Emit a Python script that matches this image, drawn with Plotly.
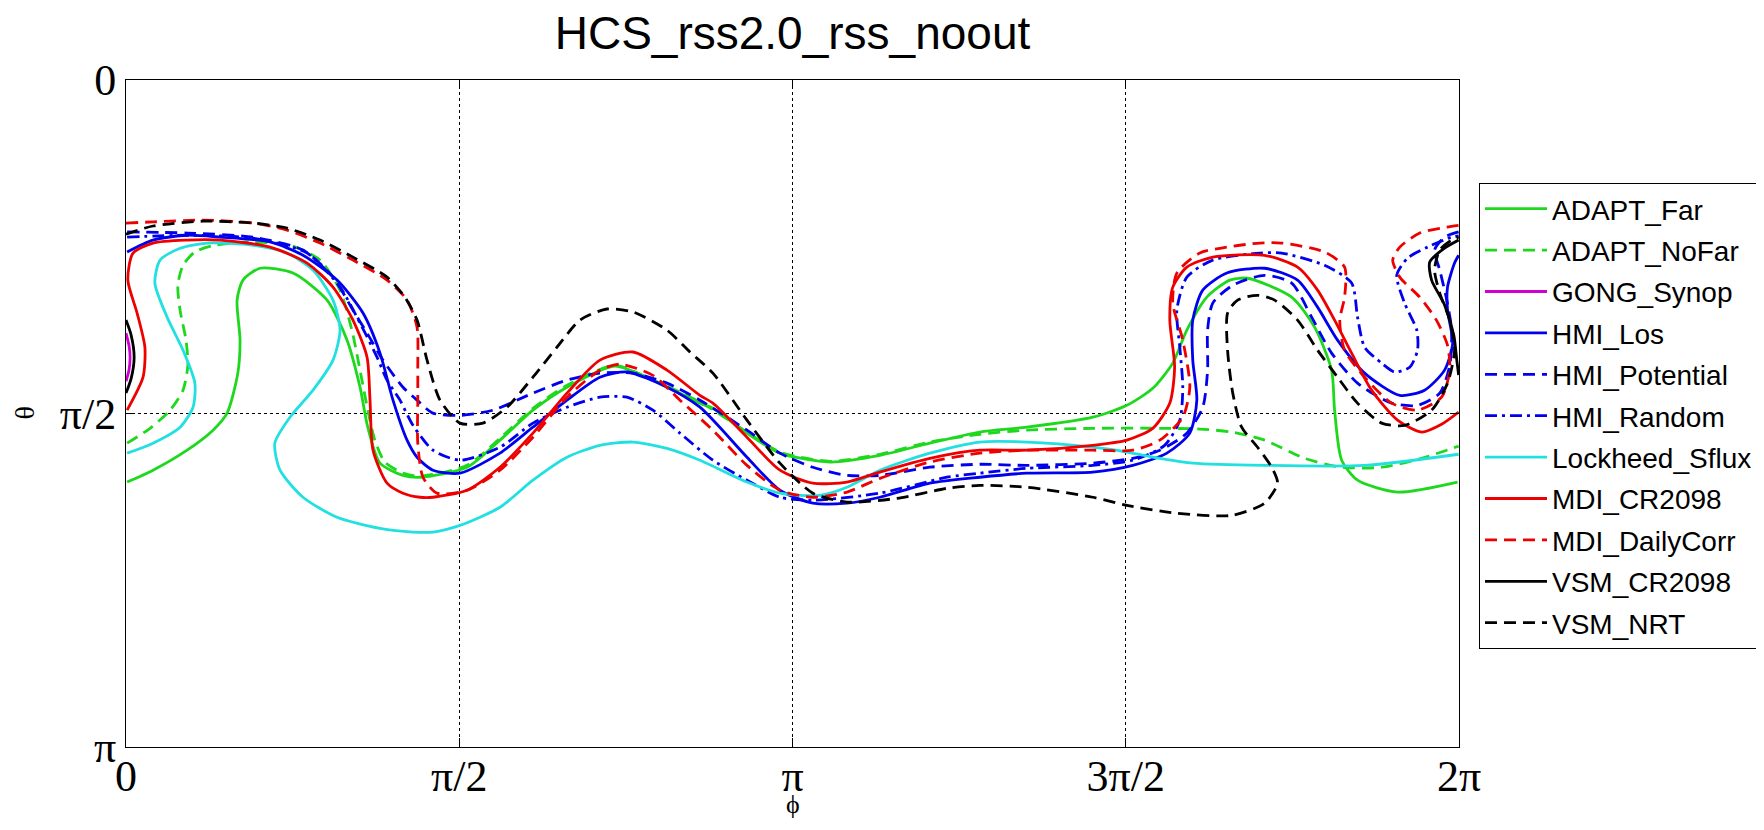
import plotly.graph_objects as go

# ---- data: heliospheric current sheet traces (phi, theta in degrees) ----
MODELS = ["ADAPT_Far", "ADAPT_NoFar", "GONG_Synop", "HMI_Los", "HMI_Potential",
          "HMI_Random", "Lockheed_Sflux", "MDI_CR2098", "MDI_DailyCorr",
          "VSM_CR2098", "VSM_NRT"]

PHI_ADAPT_FAR = [0.3, 7.3, 16.5, 23.5, 27.3, 30.2, 30.8, 30.0, 31.6, 36.2, 45.1, 54.3, 59.7, 63.2, 65.3,
                 68.6, 74.8, 79.4, 92.1, 101.0, 109.9, 119.1, 132.0, 142.3, 155.0, 158.5, 167.7,
                 176.6, 190.1, 203.6, 217.1, 230.6, 243.3, 261.1, 270.3, 277.3, 282.7, 286.5,
                 291.9, 298.1, 302.9, 314.8, 321.0, 325.6, 326.4, 328.3, 332.6, 343.4, 359.6]
THETA_ADAPT_FAR = [108.5, 105.3, 99.9, 94.5, 89.9, 79.1, 70.2, 59.4, 54.0, 50.8, 52.1, 59.4, 70.2, 82.9,
                   93.7, 103.4, 106.7, 107.2, 104.5, 97.2, 89.1, 82.9, 77.2, 81.0, 87.2, 88.6, 95.3,
                   100.7, 103.1, 101.3, 98.0, 95.0, 93.7, 91.0, 87.8, 83.2, 76.4, 67.5, 58.6, 54.0,
                   53.5, 58.6, 66.7, 78.3, 89.1, 102.6, 108.0, 111.2, 108.5]

PHI_ADAPT_NOFAR = [0.3, 6.5, 11.9, 15.4, 16.7, 16.2, 14.6, 14.0, 15.4, 18.6, 24.0, 33.5, 44.3, 52.4,
                   57.8, 61.0, 63.2, 65.3, 67.2, 69.9, 74.8, 79.4, 92.1, 101.0, 109.9, 119.1, 132.0,
                   142.3, 155.0, 167.7, 176.6, 190.1, 203.6, 217.1, 230.6, 243.3, 261.1, 279.2,
                   290.0, 298.6, 307.5, 318.3, 328.3, 339.1, 349.9, 359.9]
THETA_ADAPT_NOFAR = [98.0, 94.0, 89.1, 83.7, 77.0, 70.2, 62.1, 55.4, 50.0, 46.4, 44.6, 43.7, 44.6, 48.6,
                     56.7, 67.5, 78.3, 89.1, 97.2, 103.1, 106.1, 106.9, 104.0, 96.7, 88.6, 82.4, 77.0,
                     81.0, 86.9, 95.0, 100.4, 102.9, 101.0, 97.7, 95.6, 94.5, 94.0, 94.0, 94.2, 95.0,
                     97.2, 102.1, 104.5, 104.5, 102.1, 98.8]

PHI_GONG_SYNOP = [0.0, 0.8, 1.1, 0.8, 0.0]
THETA_GONG_SYNOP = [68.3, 71.6, 74.8, 78.3, 81.3]

PHI_HMI_LOS = [0.3, 7.3, 16.5, 25.4, 38.9, 47.8, 57.0, 64.0, 68.6, 72.1, 75.9, 78.6, 82.9, 90.2, 101.0,
               109.9, 119.1, 128.0, 135.3, 146.1, 155.0, 167.7, 176.6, 185.5, 194.7, 203.6, 217.1,
               230.6, 243.3, 261.1, 271.9, 281.1, 287.3, 289.2, 288.1, 288.1, 290.8, 297.3, 307.5,
               316.4, 321.8, 327.2, 334.5, 344.0, 350.7, 356.1, 358.3, 356.9, 356.9, 358.8, 359.9]
THETA_HMI_LOS = [46.4, 43.2, 41.9, 42.4, 43.7, 47.3, 54.0, 62.9, 73.7, 86.4, 97.2, 101.8, 105.3, 106.1,
                 100.7, 93.7, 86.4, 80.2, 78.8, 82.9, 88.3, 101.8, 110.7, 114.2, 114.2, 112.6, 108.8,
                 107.2, 106.1, 105.8, 104.0, 100.7, 95.3, 86.4, 75.6, 64.8, 56.7, 52.1, 50.8, 54.0,
                 61.3, 70.2, 79.1, 85.1, 83.7, 78.3, 71.0, 62.1, 55.9, 49.4, 47.3]

PHI_HMI_POTENTIAL = [0.3, 16.5, 34.3, 47.8, 55.9, 61.3, 65.1, 69.4, 74.8, 78.6, 82.9, 90.2, 99.1, 109.9,
                     119.1, 128.0, 136.9, 146.1, 155.0, 167.7, 176.6, 185.5, 194.7, 203.6, 217.1,
                     230.6, 243.3, 261.1, 271.9, 279.2, 286.5, 290.8, 292.1, 292.1, 293.5, 298.9,
                     307.5, 314.8, 320.2, 325.6, 332.6, 341.8, 348.8, 354.8, 357.5, 358.0, 356.7,
                     354.8, 353.4, 356.1, 359.9]
THETA_HMI_POTENTIAL = [41.0, 41.3, 42.4, 45.9, 53.2, 62.1, 68.3, 75.6, 82.9, 86.4, 89.9, 90.5, 89.1,
                       84.5, 81.0, 79.1, 79.1, 81.8, 86.4, 94.5, 100.7, 104.5, 106.7, 106.7, 104.5,
                       103.7, 104.0, 103.4, 102.1, 99.9, 95.3, 88.3, 78.3, 67.5, 60.2, 55.4, 52.7,
                       54.8, 64.0, 73.7, 81.8, 87.2, 87.8, 84.5, 77.0, 67.5, 59.4, 51.3, 45.9, 42.4,
                       41.0]

PHI_HMI_RANDOM = [0.3, 16.5, 34.3, 48.9, 57.8, 63.2, 67.8, 70.5, 74.0, 77.5, 82.9, 90.2, 101.0, 109.9,
                  119.1, 128.0, 135.3, 142.3, 149.6, 158.5, 167.7, 176.6, 185.5, 203.6, 221.7, 230.6,
                  243.3, 261.1, 271.9, 280.5, 284.6, 285.4, 284.6, 283.8, 286.5, 293.5, 306.2, 312.1,
                  323.7, 331.0, 332.6, 334.5, 339.1, 342.6, 346.7, 348.8, 348.6, 345.3, 343.2, 346.1,
                  351.5, 358.0, 359.9]
THETA_HMI_RANDOM = [42.4, 41.9, 42.7, 46.7, 55.9, 65.6, 74.8, 81.0, 86.4, 93.2, 99.9, 102.6, 99.1, 92.6,
                    88.3, 85.6, 85.6, 89.1, 95.3, 102.6, 108.0, 112.6, 113.4, 111.5, 107.2, 106.1,
                    104.8, 104.0, 102.6, 98.6, 91.8, 82.9, 72.1, 62.1, 53.2, 48.6, 46.7, 46.7, 50.0,
                    54.8, 64.0, 72.1, 76.4, 78.8, 77.5, 72.9, 67.5, 60.2, 52.7, 48.1, 45.1, 42.4, 42.1]

PHI_LOCKHEED = [0.3, 7.3, 14.6, 18.1, 18.6, 15.4, 11.1, 7.8, 9.2, 14.6, 21.9, 34.3, 43.5, 50.5, 55.9,
                57.8, 55.9, 50.5, 44.3, 40.2, 41.6, 47.8, 57.0, 68.6, 77.5, 82.9, 90.2, 101.0, 109.9,
                119.1, 128.0, 136.9, 146.1, 155.0, 167.7, 176.6, 187.4, 194.7, 203.6, 217.1, 230.6,
                243.3, 261.1, 270.3, 279.2, 288.1, 307.5, 334.5, 359.9]
THETA_LOCKHEED = [100.7, 98.0, 93.7, 88.3, 81.8, 72.9, 64.0, 54.8, 48.6, 45.4, 44.0, 44.6, 46.7, 51.3,
                  59.4, 67.5, 75.6, 83.7, 91.0, 98.0, 105.3, 112.6, 118.0, 121.0, 122.0, 122.0, 120.2,
                  115.3, 108.0, 101.8, 98.6, 97.7, 99.4, 102.6, 108.5, 111.5, 112.1, 109.9, 105.3,
                  100.7, 97.7, 97.7, 99.1, 100.4, 102.1, 103.4, 104.0, 104.0, 101.0]

PHI_MDI_CR2098 = [0.3, 4.6, 5.1, 3.0, 0.5, 1.9, 7.3, 16.5, 25.4, 38.9, 48.9, 55.9, 61.3, 65.1, 65.9,
                  66.7, 70.5, 74.8, 79.4, 82.9, 92.1, 101.0, 109.9, 119.1, 128.0, 136.9, 146.1, 155.0,
                  158.5, 167.7, 176.6, 185.5, 194.7, 203.6, 217.1, 230.6, 243.3, 261.1, 270.3, 277.3,
                  281.9, 283.2, 281.9, 282.7, 286.5, 293.5, 307.5, 316.4, 321.8, 326.4, 331.0, 336.4,
                  343.4, 349.9, 355.3, 359.9]
THETA_MDI_CR2098 = [89.1, 80.2, 72.1, 62.9, 54.0, 46.7, 44.0, 43.2, 43.2, 45.1, 49.4, 55.9, 64.8, 74.8,
                    86.4, 99.9, 108.8, 111.5, 112.6, 112.6, 110.7, 104.5, 95.3, 84.5, 75.6, 73.4, 78.3,
                    85.1, 87.2, 96.4, 105.3, 108.8, 108.5, 105.8, 102.1, 99.9, 99.9, 98.6, 97.2, 94.0,
                    87.2, 77.5, 64.8, 55.9, 50.5, 47.8, 47.3, 50.5, 56.7, 64.8, 73.7, 83.7, 91.8, 95.0,
                    92.9, 89.6]

PHI_MDI_DAILY = [0.0, 7.3, 20.8, 34.3, 43.5, 52.4, 61.3, 70.5, 75.9, 78.6, 78.8, 78.8, 78.8, 80.2, 84.0,
                 92.1, 101.0, 109.9, 119.1, 128.0, 133.4, 142.3, 149.6, 158.5, 167.7, 176.6, 185.5,
                 194.7, 203.6, 217.1, 230.6, 243.3, 261.1, 271.9, 279.2, 285.4, 287.3, 285.4, 282.7,
                 283.8, 290.0, 297.3, 306.2, 312.1, 323.7, 329.1, 329.1, 327.8, 329.1, 334.5, 341.8,
                 348.8, 355.3, 357.5, 356.9, 353.9, 349.4, 344.0, 342.1, 344.0, 349.4, 356.7, 359.9]
THETA_MDI_DAILY = [38.6, 38.3, 37.8, 38.6, 40.5, 44.0, 48.6, 54.0, 59.4, 66.7, 77.5, 86.4, 98.0, 107.2,
                   111.5, 110.7, 105.3, 96.4, 85.6, 78.3, 76.7, 79.7, 86.4, 94.5, 104.0, 110.7, 112.6,
                   111.2, 107.5, 103.1, 100.7, 99.9, 99.9, 99.9, 97.2, 91.0, 82.9, 70.2, 60.2, 52.1,
                   46.7, 45.1, 44.0, 44.0, 46.4, 50.5, 58.6, 64.8, 72.9, 80.2, 87.2, 89.1, 85.6, 78.3,
                   71.6, 64.8, 58.6, 53.2, 48.6, 45.1, 41.3, 39.7, 39.2]

PHI_VSM_CR2098 = [0.0, 1.4, 2.2, 1.4, 0.0, None, 359.9, 356.1, 352.1, 352.6, 356.1, 358.6, 359.4, 359.9]
THETA_VSM_CR2098 = [64.8, 68.9, 74.8, 80.5, 84.5, None, 43.2, 45.4, 49.1, 54.0, 60.7, 68.9, 75.6, 79.6]

PHI_VSM_NRT = [0.0, 7.3, 20.8, 34.3, 43.5, 52.4, 61.3, 70.5, 75.3, 78.6, 81.3, 84.8, 90.2, 96.4, 102.9,
               109.9, 116.4, 122.6, 129.9, 136.9, 146.1, 152.3, 158.5, 167.7, 176.6, 185.5, 194.7,
               208.2, 221.7, 230.6, 243.3, 261.1, 270.3, 283.8, 298.6, 307.5, 311.0, 309.4, 305.6,
               301.3, 298.9, 297.5, 297.5, 300.2, 305.6, 310.2, 316.4, 321.8, 327.2, 332.6, 339.1,
               345.3, 352.6, 356.9, 358.8, 357.5, 354.8, 353.4, 354.8, 358.0, 359.9]
THETA_VSM_NRT = [41.6, 39.4, 38.1, 38.6, 40.0, 43.2, 47.8, 53.2, 58.6, 64.8, 75.6, 86.4, 92.6, 92.6,
                 88.3, 80.2, 72.1, 64.8, 61.8, 62.6, 67.5, 73.4, 79.1, 91.8, 103.4, 111.5, 113.9,
                 112.9, 110.2, 109.4, 109.9, 112.6, 114.8, 116.9, 117.5, 114.2, 108.8, 104.5, 99.1,
                 93.7, 84.5, 72.9, 62.9, 59.4, 58.1, 59.4, 64.8, 72.9, 80.2, 87.2, 92.6, 93.2, 89.1,
                 81.8, 72.9, 64.8, 57.5, 51.3, 45.9, 43.2, 42.4]

X_TICKS = [0, 90, 180, 270, 360]
X_TICK_TEXT = ["0", "π/2", "π", "3π/2", "2π"]
Y_TICKS = [0, 90, 180]
Y_TICK_TEXT = ["0", "π/2", "π"]

SERIES = [
    (PHI_ADAPT_FAR, THETA_ADAPT_FAR, "#1ed81e", "solid"),
    (PHI_ADAPT_NOFAR, THETA_ADAPT_NOFAR, "#1ed81e", "12px,7px"),
    (PHI_GONG_SYNOP, THETA_GONG_SYNOP, "#d000d0", "solid"),
    (PHI_HMI_LOS, THETA_HMI_LOS, "#0000ee", "solid"),
    (PHI_HMI_POTENTIAL, THETA_HMI_POTENTIAL, "#0000ee", "12px,7px"),
    (PHI_HMI_RANDOM, THETA_HMI_RANDOM, "#0000ee", "12px,5px,3px,5px"),
    (PHI_LOCKHEED, THETA_LOCKHEED, "#22e0e0", "solid"),
    (PHI_MDI_CR2098, THETA_MDI_CR2098, "#ee0000", "solid"),
    (PHI_MDI_DAILY, THETA_MDI_DAILY, "#ee0000", "12px,7px"),
    (PHI_VSM_CR2098, THETA_VSM_CR2098, "#000000", "solid"),
    (PHI_VSM_NRT, THETA_VSM_NRT, "#000000", "12px,7px"),
]

fig = go.Figure()
for name, (px, ty, col, dash) in zip(MODELS, SERIES):
    fig.add_trace(go.Scatter(
        x=px, y=ty, mode="lines", name=name, legendgroup=name,
        line=dict(color=col, width=2.8, dash=dash, shape="spline", smoothing=0.7),
        hoverinfo="skip"))

axis_common = dict(
    showline=True, linecolor="black", linewidth=1, mirror="ticks",
    ticks="inside", ticklen=9, tickcolor="black", tickwidth=1,
    showgrid=True, gridcolor="black", gridwidth=1, griddash="dot",
    zeroline=False,
    tickfont=dict(family="Liberation Serif, Times New Roman, serif", size=44, color="black"),
)

# the page body has an 8px margin: the figure is sized so the plot area sits at
# x 126..1459, y 80..747 of the 1764x830 window
fig.update_layout(
    width=1748, height=814, autosize=False,
    margin=dict(l=118, r=297, t=72, b=75, autoexpand=False),
    paper_bgcolor="white", plot_bgcolor="white",
    title=dict(text="HCS_rss2.0_rss_noout", xref="paper", x=0.5, xanchor="center",
               y=1 - 25 / 814, yanchor="middle", yref="container",
               font=dict(family="Liberation Sans, Arial, sans-serif", size=46, color="black")),
    xaxis=dict(range=[0, 360], tickvals=X_TICKS, ticktext=X_TICK_TEXT,
               ticklabelstandoff=-10, **axis_common),
    yaxis=dict(range=[180, 0], tickvals=Y_TICKS, ticktext=Y_TICK_TEXT, **axis_common),
    legend=dict(x=1.015, y=0.8456, xanchor="left", yanchor="top",
                bgcolor="white", bordercolor="black", borderwidth=1,
                font=dict(family="Liberation Sans, Arial, sans-serif", size=28, color="black"),
                traceorder="grouped", tracegroupgap=2, itemwidth=62),
    showlegend=True,
)

# axis titles
fig.add_annotation(text="ϕ", xref="paper", yref="paper", x=0.5, y=(747 - 804) / 667,
                   xanchor="center", yanchor="middle", showarrow=False,
                   font=dict(family="Liberation Serif, serif", size=26, color="black"))
fig.add_annotation(text="θ", xref="paper", yref="paper", x=(24 - 126) / 1333, y=0.5,
                   xanchor="center", yanchor="middle", showarrow=False, textangle=-90,
                   font=dict(family="Liberation Serif, serif", size=28, color="black"))

fig.write_html("out.html")
